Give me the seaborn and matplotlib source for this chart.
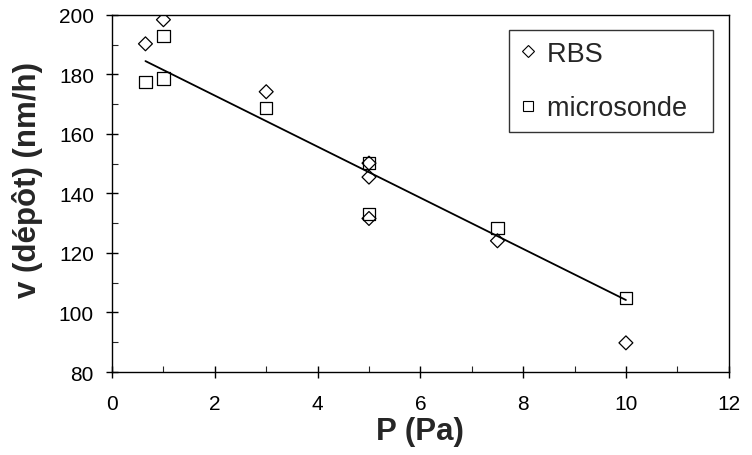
import numpy as np
import pandas as pd
import seaborn as sns
import matplotlib.pyplot as plt
from matplotlib.ticker import MultipleLocator
from matplotlib.lines import Line2D

# ------------------------------
# data
# ------------------------------
rbs_p = [0.65, 1.0, 3.0, 5.0, 5.0, 5.0, 7.5, 10.0]
rbs_v = [190.3, 198.4, 174.2, 150.2, 145.5, 131.6, 124.1, 89.8]

micro_p = [0.65, 1.0, 1.0, 3.0, 5.0, 5.0, 7.5, 10.0]
micro_v = [177.4, 192.9, 178.6, 168.7, 150.2, 133.1, 128.4, 104.9]

fit_p = [0.65, 10.0]
fit_v = [184.5, 104.2]

labels = ["RBS", "microsonde"]

rbs = pd.DataFrame({"P": rbs_p, "v": rbs_v})
micro = pd.DataFrame({"P": micro_p, "v": micro_v})
fit = pd.DataFrame({"P": fit_p, "v": fit_v})

sns.set_style("white")
plt.rcParams['font.family'] = ['Liberation Sans', 'DejaVu Sans']

fig = plt.figure(figsize=(7.52, 4.56), dpi=100)
ax = fig.add_axes([0.149, 0.182, 0.820, 0.783])

# trend line
sns.lineplot(data=fit, x="P", y="v", color="black", linewidth=1.3, ax=ax, legend=False)

# open markers
sns.scatterplot(data=rbs, x="P", y="v", marker="D", s=50, facecolor="none",
                edgecolor="black", linewidth=0.9, ax=ax, legend=False)
sns.scatterplot(data=micro, x="P", y="v", marker="s", s=80, facecolor="none",
                edgecolor="black", linewidth=0.9, ax=ax, legend=False)
for coll in ax.collections:
    coll.set_facecolor("none")
    coll.set_edgecolor("black")

ax.set_xlim(0, 12)
ax.set_ylim(80, 200)
ax.xaxis.set_major_locator(MultipleLocator(2))
ax.xaxis.set_minor_locator(MultipleLocator(1))
ax.yaxis.set_major_locator(MultipleLocator(20))
ax.yaxis.set_minor_locator(MultipleLocator(10))
ax.tick_params(which="major", direction="inout", length=8, width=1, labelsize=15,
               bottom=True, left=True, colors="black")
ax.tick_params(axis="x", which="major", pad=12)
ax.tick_params(axis="y", which="major", pad=9)
ax.tick_params(which="minor", direction="in", length=4, width=0.8, bottom=True, left=True)

for sp in ax.spines.values():
    sp.set_color("black")
    sp.set_linewidth(1)

ax.set_xlabel("P (Pa)", fontsize=22.5, fontweight="bold", labelpad=2)
ax.set_ylabel("v (dépôt) (nm/h)", fontsize=22.5, fontweight="bold")
# the original label sits a bit above the middle of the axis
ax.yaxis.set_label_coords(-0.112, 0.54)

# legend with small open markers
handles = [
    Line2D([], [], marker="D", linestyle="none", markerfacecolor="none",
           markeredgecolor="black", markersize=6, markeredgewidth=0.8),
    Line2D([], [], marker="s", linestyle="none", markerfacecolor="none",
           markeredgecolor="black", markersize=7, markeredgewidth=0.8),
]
# trailing spaces give the wide right margin of the original legend box
leg = ax.legend(handles, [lab + "  " for lab in labels], loc="upper right",
                bbox_to_anchor=(0.974, 0.958),
                borderaxespad=0, fancybox=False, frameon=True, fontsize=19.5,
                labelspacing=1.05, handlelength=0.6, handletextpad=0.4,
                borderpad=0.4)
leg.get_frame().set_edgecolor("black")
leg.get_frame().set_linewidth(1)

fig.savefig("out.png", dpi=100)
